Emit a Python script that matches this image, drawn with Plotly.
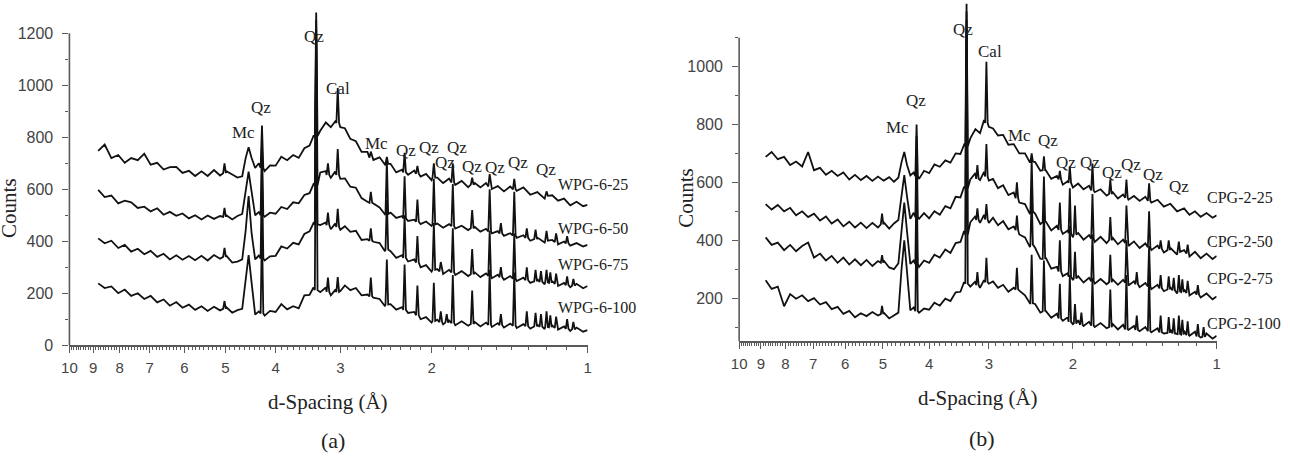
import math
import plotly.graph_objects as go

# ---------------- data ----------------
D_GRID = [8.80, 8.55, 8.30, 8.05, 7.82, 7.60, 7.38, 7.17, 6.97, 6.77,
          6.58, 6.40, 6.22, 6.05, 5.88, 5.72, 5.56, 5.41, 5.26, 5.12,
          4.98, 4.85, 4.74, 4.64, 4.57, 4.51, 4.45, 4.38, 4.31, 4.20,
          4.10, 4.00, 3.90, 3.80, 3.70, 3.61, 3.52, 3.44, 3.38, 3.28,
          3.20, 3.13, 3.07, 3.00, 2.94, 2.87, 2.80, 2.73, 2.66, 2.59,
          2.52, 2.46, 2.40, 2.34, 2.28, 2.22, 2.16, 2.10, 2.05, 2.00,
          1.95, 1.90, 1.85, 1.80, 1.75, 1.70, 1.65, 1.61, 1.57, 1.53,
          1.49, 1.45, 1.41, 1.37, 1.33, 1.29, 1.25, 1.21, 1.17, 1.14,
          1.11, 1.08, 1.05, 1.02, 1.00]

WPG_6_25 = [748, 772, 720, 732, 702, 720, 712, 737, 695, 702,
            676, 685, 686, 663, 671, 651, 669, 651, 674, 653,
            670, 657, 645, 650, 720, 762, 720, 682, 700, 670,
            692, 691, 725, 712, 732, 721, 758, 768, 805, 825,
            857, 839, 861, 839, 835, 794, 785, 744, 744, 713,
            723, 695, 698, 665, 675, 656, 672, 649, 659, 635,
            645, 624, 641, 617, 632, 608, 624, 607, 624, 601,
            612, 592, 611, 594, 607, 579, 589, 564, 577, 556,
            564, 538, 552, 535, 540]
WPG_6_50 = [598, 570, 576, 546, 556, 550, 528, 533, 515, 527,
            502, 513, 498, 507, 488, 500, 484, 499, 486, 497,
            500, 484, 497, 505, 590, 668, 590, 500, 512, 494,
            510, 506, 532, 524, 550, 546, 578, 585, 620, 665,
            670, 644, 668, 640, 642, 610, 606, 566, 552, 545,
            530, 503, 510, 490, 497, 478, 483, 466, 476, 459,
            468, 452, 466, 449, 460, 443, 455, 437, 448, 430,
            439, 421, 431, 413, 423, 402, 414, 395, 405, 388,
            399, 383, 393, 380, 386]
WPG_6_75 = [411, 392, 402, 374, 386, 360, 371, 350, 363, 340,
            352, 330, 346, 329, 343, 327, 344, 326, 347, 333,
            345, 318, 322, 330, 440, 574, 430, 330, 345, 326,
            342, 344, 380, 372, 394, 388, 428, 438, 470, 462,
            472, 446, 468, 444, 458, 436, 440, 405, 408, 398,
            393, 362, 362, 336, 346, 322, 330, 300, 308, 283,
            293, 274, 290, 270, 285, 266, 280, 262, 276, 258,
            271, 252, 266, 247, 260, 240, 254, 234, 247, 228,
            240, 223, 236, 219, 228]
WPG_6_100 = [238, 220, 226, 200, 214, 190, 200, 178, 190, 165,
             176, 152, 166, 144, 156, 136, 150, 132, 148, 134,
             146, 125, 135, 140, 250, 347, 240, 118, 130, 114,
             132, 128, 158, 138, 150, 142, 192, 194, 222, 204,
             222, 192, 212, 208, 230, 212, 220, 192, 195, 183,
             178, 150, 158, 137, 146, 124, 128, 100, 108, 87,
             98, 80, 95, 77, 92, 75, 89, 72, 87, 70,
             85, 68, 83, 66, 81, 64, 79, 62, 76, 60,
             72, 55, 68, 52, 58]

CPG_2_25 = [688, 705, 680, 688, 660, 672, 655, 705, 642, 650,
            626, 640, 622, 634, 610, 626, 608, 622, 605, 620,
            606, 618, 602, 616, 670, 705, 660, 624, 634, 612,
            640, 632, 662, 654, 676, 668, 700, 698, 730, 752,
            784, 770, 815, 792, 786, 762, 764, 730, 732, 700,
            700, 668, 670, 640, 642, 612, 622, 592, 604, 582,
            596, 576, 588, 566, 576, 554, 566, 544, 558, 540,
            553, 536, 550, 530, 540, 516, 526, 500, 510, 488,
            500, 481, 494, 478, 486]
CPG_2_50 = [525, 506, 522, 500, 512, 486, 500, 480, 492, 468,
            482, 458, 472, 448, 464, 444, 461, 442, 460, 444,
            462, 440, 458, 470, 560, 625, 550, 474, 495, 474,
            494, 476, 500, 488, 518, 510, 550, 548, 585, 610,
            632, 608, 636, 606, 612, 580, 590, 556, 565, 530,
            525, 490, 492, 456, 465, 434, 450, 422, 434, 410,
            425, 402, 418, 394, 412, 390, 408, 386, 402, 380,
            396, 373, 389, 366, 382, 358, 374, 350, 366, 344,
            360, 338, 354, 335, 346]
CPG_2_75 = [410, 384, 392, 366, 384, 362, 380, 392, 340, 354,
            330, 346, 322, 340, 316, 334, 314, 332, 311, 328,
            330, 306, 300, 320, 440, 530, 430, 318, 330, 308,
            330, 322, 350, 340, 368, 356, 390, 394, 432, 462,
            484, 460, 488, 460, 478, 452, 466, 438, 448, 420,
            410, 376, 374, 336, 340, 302, 308, 276, 286, 262,
            276, 254, 270, 250, 266, 248, 264, 246, 263, 244,
            258, 238, 252, 231, 246, 224, 238, 216, 230, 209,
            222, 202, 216, 196, 206]
CPG_2_100 = [262, 232, 240, 172, 214, 198, 210, 190, 200, 178,
             186, 162, 170, 146, 156, 134, 148, 138, 152, 140,
             150, 130, 140, 150, 300, 400, 290, 158, 168, 150,
             164, 160, 184, 174, 198, 190, 220, 222, 256, 240,
             258, 236, 262, 250, 258, 236, 246, 222, 236, 226,
             210, 182, 180, 150, 156, 132, 146, 122, 134, 110,
             124, 104, 118, 100, 114, 96, 110, 92, 108, 90,
             104, 86, 100, 82, 96, 78, 92, 74, 88, 70,
             84, 64, 78, 60, 70]

# sharp reflections: (d-spacing, counts at foot, counts at apex)
PK_WPG_6_25 = [(5.02, 662, 700), (4.25, 682, 845), (3.34, 805, 1280), (3.035, 855, 990),
               (2.62, 722, 745), (2.44, 698, 725), (2.255, 665, 740), (2.13, 660, 690),
               (1.98, 645, 700), (1.82, 626, 700), (1.67, 618, 645), (1.545, 611, 658),
               (1.385, 600, 640), (1.20, 575, 592)]
PK_WPG_6_50 = [(5.02, 494, 528), (4.25, 500, 780), (3.34, 615, 1250), (3.17, 655, 700),
               (3.035, 655, 755), (2.62, 548, 590), (2.44, 505, 715), (2.255, 488, 650),
               (2.13, 475, 560), (1.98, 465, 640), (1.82, 458, 620), (1.67, 450, 520),
               (1.545, 438, 600), (1.47, 430, 470), (1.385, 422, 590), (1.31, 413, 450),
               (1.26, 408, 445), (1.20, 402, 440), (1.15, 397, 430), (1.095, 392, 420)]
PK_WPG_6_75 = [(5.02, 340, 375), (4.25, 334, 700), (3.34, 465, 1215), (3.17, 462, 510),
               (3.035, 455, 525), (2.62, 402, 450), (2.44, 368, 560), (2.255, 336, 500),
               (2.13, 318, 420), (1.98, 290, 470), (1.92, 284, 320), (1.82, 280, 450),
               (1.67, 273, 370), (1.545, 267, 440), (1.47, 262, 300), (1.385, 256, 430),
               (1.31, 250, 300), (1.26, 246, 290), (1.23, 244, 285), (1.20, 242, 290),
               (1.18, 240, 280), (1.15, 236, 275), (1.095, 231, 265), (1.065, 229, 255)]
PK_WPG_6_100 = [(5.02, 140, 170), (4.25, 122, 450), (3.34, 212, 1180), (3.17, 205, 260),
                (3.035, 205, 262), (2.62, 188, 260), (2.44, 157, 330), (2.255, 136, 310),
                (2.13, 115, 230), (1.98, 93, 240), (1.92, 89, 130), (1.87, 87, 120),
                (1.82, 85, 270), (1.67, 82, 210), (1.545, 78, 290), (1.47, 77, 120),
                (1.385, 75, 280), (1.31, 73, 130), (1.26, 72, 125), (1.23, 71, 120),
                (1.20, 70, 130), (1.18, 69, 115), (1.15, 67, 110), (1.095, 63, 100),
                (1.065, 61, 90)]

PK_CPG_2_25 = [(4.25, 622, 800), (3.34, 725, 1217), (3.035, 805, 1017), (2.44, 672, 700),
               (2.30, 642, 690), (2.13, 610, 640), (2.03, 598, 655), (1.82, 572, 665),
               (1.67, 560, 610), (1.545, 547, 610), (1.385, 536, 597)]
PK_CPG_2_50 = [(5.02, 455, 492), (4.25, 480, 760), (3.34, 580, 1190), (3.17, 612, 660),
               (3.035, 620, 732), (2.62, 545, 600), (2.44, 500, 680), (2.30, 462, 620),
               (2.13, 436, 530), (2.03, 424, 580), (1.98, 420, 520), (1.82, 405, 560),
               (1.67, 400, 480), (1.545, 390, 520), (1.385, 376, 500), (1.31, 370, 400),
               (1.26, 366, 400), (1.20, 360, 395), (1.15, 354, 385)]
PK_CPG_2_75 = [(5.02, 322, 349), (4.25, 318, 640), (3.34, 420, 1160), (3.17, 470, 510),
               (3.035, 472, 525), (2.62, 435, 485), (2.44, 385, 560), (2.30, 335, 500),
               (2.13, 292, 400), (2.03, 274, 450), (1.98, 268, 360), (1.82, 258, 420),
               (1.67, 255, 350), (1.545, 253, 400), (1.47, 248, 290), (1.385, 240, 380),
               (1.31, 234, 280), (1.26, 230, 275), (1.23, 227, 270), (1.20, 223, 280),
               (1.18, 221, 265), (1.15, 218, 260), (1.095, 212, 245)]
PK_CPG_2_100 = [(5.02, 145, 173), (4.25, 155, 520), (3.34, 250, 1120), (3.17, 245, 290),
                (3.035, 255, 339), (2.62, 230, 305), (2.44, 182, 350), (2.30, 154, 330),
                (2.13, 130, 250), (2.03, 118, 280), (1.98, 112, 180), (1.92, 108, 150),
                (1.82, 105, 270), (1.67, 100, 230), (1.545, 92, 280), (1.47, 90, 140),
                (1.385, 86, 280), (1.31, 82, 140), (1.26, 80, 135), (1.23, 78, 130),
                (1.20, 76, 140), (1.18, 74, 125), (1.15, 72, 120), (1.095, 68, 110),
                (1.065, 66, 100)]

SAMPLES_A = ["WPG-6-25", "WPG-6-50", "WPG-6-75", "WPG-6-100"]
SAMPLES_B = ["CPG-2-25", "CPG-2-50", "CPG-2-75", "CPG-2-100"]
SAMPLE_LABEL_Y_A = [630, 460, 321, 155]
SAMPLE_LABEL_Y_B = [559, 407, 278, 122]

PHASE_TEXT_A = ["Mc", "Qz", "Qz", "Cal", "Mc", "Qz", "Qz", "Qz", "Qz", "Qz", "Qz", "Qz", "Qz"]
PHASE_D_A = [4.61, 4.26, 3.37, 3.03, 2.555, 2.24, 2.02, 1.79, 1.885, 1.674, 1.506, 1.361, 1.203]
PHASE_Y_A = [830, 925, 1200, 1000, 789, 762, 774, 774, 713, 698, 694, 713, 687]

PHASE_TEXT_B = ["Mc", "Qz", "Qz", "Cal", "Mc", "Qz", "Qz", "Qz", "Qz", "Qz", "Qz", "Qz"]
PHASE_D_B = [4.66, 4.27, 3.40, 2.99, 2.59, 2.26, 2.07, 1.84, 1.66, 1.515, 1.358, 1.199]
PHASE_Y_B = [800, 892, 1139, 1061, 773, 756, 678, 678, 644, 671, 637, 597]

X_TICKS = [10, 9, 8, 7, 6, 5, 4, 3, 2, 1]
X_MINOR = [round(i / 10, 1) for i in range(11, 100) if i % 10 != 0]

# ---------------- figure ----------------
W, H = 1290, 466
SERIF = "Liberation Serif, Times New Roman, serif"
SANS = "Liberation Sans, Arial, sans-serif"
AXC = "#5a5a5a"
LINEC = "#111111"
LW = 1.8


def build(vals, peaks):
    assert len(vals) == len(D_GRID)
    pts = list(zip(D_GRID, vals))
    f = 1.006
    for d, base, apex in peaks:
        pts += [(d * f, base), (d, apex), (d / f, base)]
    pts.sort(key=lambda p: -p[0])
    return [p[0] for p in pts], [p[1] for p in pts]


fig = go.Figure()
for vals, pk in [(WPG_6_25, PK_WPG_6_25), (WPG_6_50, PK_WPG_6_50),
                 (WPG_6_75, PK_WPG_6_75), (WPG_6_100, PK_WPG_6_100)]:
    xs, ys = build(vals, pk)
    fig.add_trace(go.Scatter(x=xs, y=ys, mode="lines", xaxis="x", yaxis="y",
                             line=dict(color=LINEC, width=LW), showlegend=False,
                             hoverinfo="skip"))
for vals, pk in [(CPG_2_25, PK_CPG_2_25), (CPG_2_50, PK_CPG_2_50),
                 (CPG_2_75, PK_CPG_2_75), (CPG_2_100, PK_CPG_2_100)]:
    xs, ys = build(vals, pk)
    fig.add_trace(go.Scatter(x=xs, y=ys, mode="lines", xaxis="x2", yaxis="y2",
                             line=dict(color=LINEC, width=LW), showlegend=False,
                             hoverinfo="skip"))


def xaxis_cfg(domain, anchor):
    return dict(type="log", range=[1, 0], domain=domain, anchor=anchor,
                tickmode="array", tickvals=X_TICKS, ticktext=[str(t) for t in X_TICKS],
                ticks="outside", ticklen=6, tickwidth=1.2, tickcolor=AXC,
                showline=True, linecolor=AXC, linewidth=1.6, showgrid=False, zeroline=False,
                tickfont=dict(family=SANS, size=15, color="#444"), ticklabelstandoff=2,
                minor=dict(tickmode="array", tickvals=X_MINOR, ticks="outside",
                           ticklen=3, tickwidth=1, tickcolor=AXC, showgrid=False))


def yaxis_cfg(domain, anchor, rng, major, minor):
    return dict(range=rng, domain=domain, anchor=anchor,
                tickmode="array", tickvals=major, ticktext=[str(t) for t in major],
                ticks="outside", ticklen=6, tickwidth=1.2, tickcolor=AXC,
                showline=False, showgrid=False, zeroline=False,
                tickfont=dict(family=SANS, size=16, color="#444"), ticklabelstandoff=6,
                minor=dict(tickmode="array", tickvals=minor, ticks="outside",
                           ticklen=3, tickwidth=1, tickcolor=AXC, showgrid=False))


fig.update_layout(
    width=W, height=H, margin=dict(l=0, r=0, t=0, b=0),
    paper_bgcolor="white", plot_bgcolor="white",
    xaxis=xaxis_cfg([62 / W, 585 / W], "y"),
    yaxis=yaxis_cfg([1 - 352 / H, 1 - 11.5 / H], "x", [0, 1285],
                    [0, 200, 400, 600, 800, 1000, 1200],
                    [100, 300, 500, 700, 900, 1100]),
    xaxis2=xaxis_cfg([738 / W, 1220 / W], "y2"),
    yaxis2=yaxis_cfg([1 - 348 / H, 1.0], "x2", [51, 1230],
                     [200, 400, 600, 800, 1000],
                     [100, 300, 500, 700, 900, 1100]),
)

# y axis lines (stop at top tick like the original)
fig.add_shape(type="line", xref="x domain", yref="y", x0=0, x1=0, y0=0, y1=1200,
              line=dict(color=AXC, width=1.6))
fig.add_shape(type="line", xref="x2 domain", yref="y2", x0=0, x1=0, y0=51, y1=1100,
              line=dict(color=AXC, width=1.6))

ann = []
for t, d, y in zip(PHASE_TEXT_A, PHASE_D_A, PHASE_Y_A):
    ann.append(dict(text=t, x=math.log10(d), y=y, xref="x", yref="y", showarrow=False,
                    xanchor="center", yanchor="middle", yshift=-3,
                    font=dict(family=SERIF, size=17, color="#222")))
for t, d, y in zip(PHASE_TEXT_B, PHASE_D_B, PHASE_Y_B):
    ann.append(dict(text=t, x=math.log10(d), y=y, xref="x2", yref="y2", showarrow=False,
                    xanchor="center", yanchor="middle", yshift=-3,
                    font=dict(family=SERIF, size=17, color="#222")))
for t, y in zip(SAMPLES_A, SAMPLE_LABEL_Y_A):
    ann.append(dict(text=t, x=0.94, y=y, xref="x domain", yref="y", xanchor="left",
                    yanchor="middle", yshift=-3, showarrow=False,
                    font=dict(family=SERIF, size=16, color="#222")))
for t, y in zip(SAMPLES_B, SAMPLE_LABEL_Y_B):
    ann.append(dict(text=t, x=0.975, y=y, xref="x2 domain", yref="y2", xanchor="left",
                    yanchor="middle", yshift=-3, showarrow=False,
                    font=dict(family=SERIF, size=16, color="#222")))


def caption(text, px, py, size, angle=0):
    return dict(text=text, x=px / W, y=1 - py / H, xref="paper", yref="paper",
                xanchor="center", yanchor="middle", textangle=angle, showarrow=False,
                font=dict(family=SERIF, size=size, color="#222"))


ann += [
    caption("Counts", 1, 212, 21, -90),
    caption("Counts", 684, 202, 21, -90),
    caption("d-Spacing (Å)", 323, 410, 21),
    caption("d-Spacing (Å)", 979, 406, 21),
    caption("(a)", 328, 449, 22),
    caption("(b)", 983, 447, 22),
]
fig.update_layout(annotations=ann)

fig.write_html("out.html", config={"displayModeBar": False})
